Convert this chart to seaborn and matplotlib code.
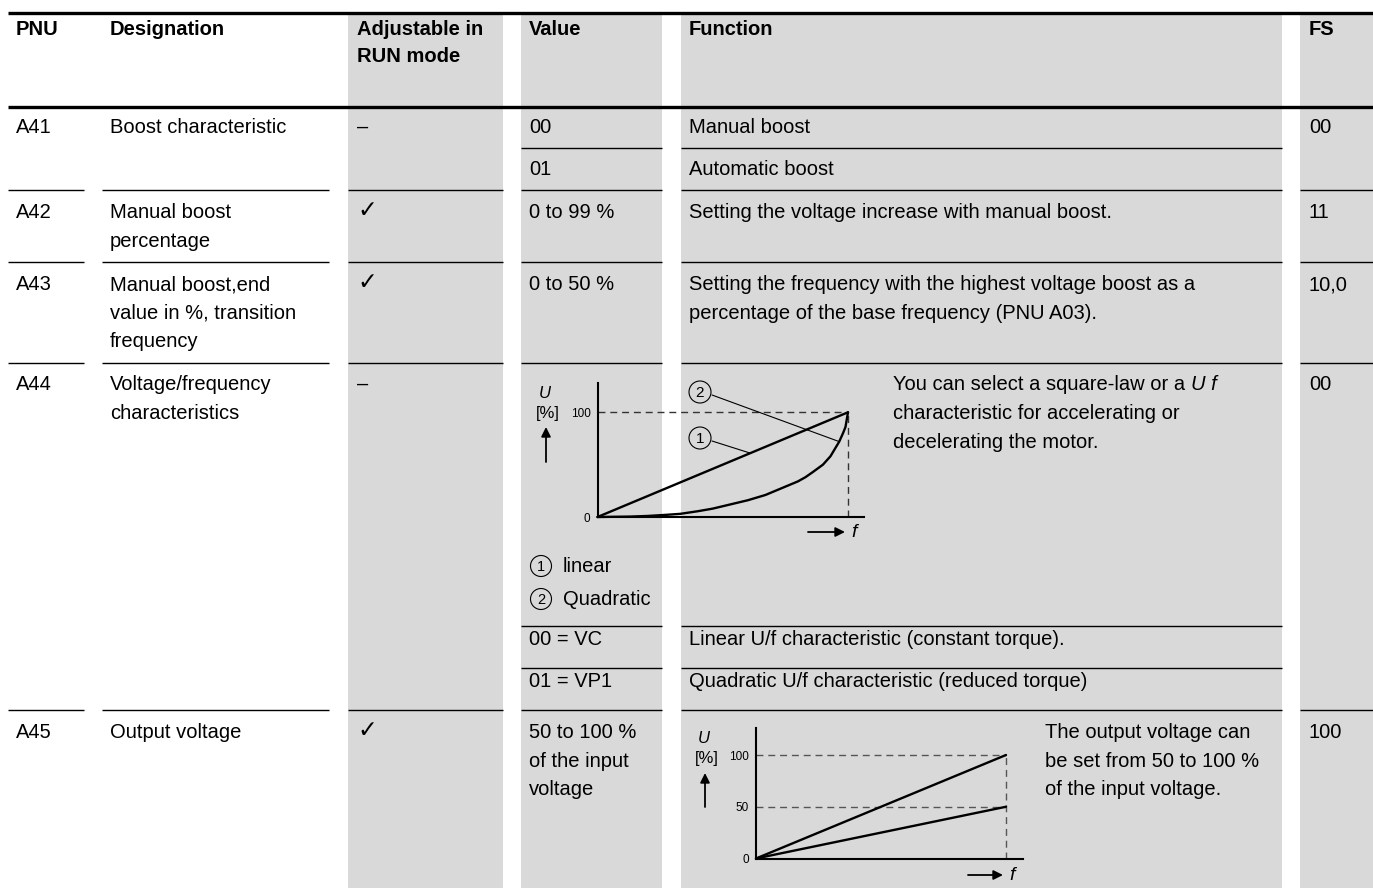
import matplotlib
matplotlib.use("Agg")
import matplotlib.pyplot as plt
from matplotlib.patches import Rectangle, Circle
import seaborn as sns

sns.set_theme(style="white")
plt.rcParams['font.family'] = ['Liberation Sans', 'DejaVu Sans']

# ---- table content ----
headers = ["PNU", "Designation", "Adjustable in\nRUN mode", "Value", "Function", "FS"]
pnu = ["A41", "A42", "A43", "A44", "A45"]
designation = ["Boost characteristic",
               "Manual boost\npercentage",
               "Manual boost,end\nvalue in %, transition\nfrequency",
               "Voltage/frequency\ncharacteristics",
               "Output voltage"]
run_mode = ["–", "✓", "✓", "–", "✓"]
fs_value = ["00", "11", "10,0", "00", "100"]
values = ["00", "01", "0 to 99 %", "0 to 50 %", "00 = VC", "01 = VP1",
          "50 to 100 %\nof the input\nvoltage"]
functions = ["Manual boost",
             "Automatic boost",
             "Setting the voltage increase with manual boost.",
             "Setting the frequency with the highest voltage boost as a\n"
             "percentage of the base frequency (PNU A03).",
             "Linear U/f characteristic (constant torque).",
             "Quadratic U/f characteristic (reduced torque)",
             ""]
a44_text = ["You can select a square-law or a", "characteristic for accelerating or",
            "decelerating the motor."]
a44_italic = "U f"
a45_text = "The output voltage can\nbe set from 50 to 100 %\nof the input voltage."
legend_items = ["linear", "Quadratic"]

# ---- diagram curves (f relative to base frequency, U in %) ----
lin_f = [0, 1]
lin_u = [0, 100]
quad_f = [0, 0.13, 0.2, 0.27, 0.33, 0.4, 0.46, 0.53, 0.6, 0.67, 0.73, 0.76, 0.8,
          0.83, 0.86, 0.9, 0.93, 0.95, 0.965, 0.98, 0.99, 0.995, 1.0]
quad_u = [0, 0.4, 1, 2, 3, 5.5, 8, 12, 16, 21, 27, 30, 34,
          38, 43, 50, 58, 66, 72, 80, 86, 93, 100]
out_f = [0, 1]
out_hi = [0, 100]
out_lo = [0, 50]

W, H = 1373, 888
fig = plt.figure(figsize=(W / 100, H / 100), dpi=100)
ax = fig.add_axes([0, 0, 1, 1])
ax.set_xlim(0, W)
ax.set_ylim(H, 0)
ax.axis('off')

GRAY = '#d9d9d9'
FSZ = 14.5
STEP = 28.5

col_pnu, col_des, col_adj = (8, 84), (102, 329), (348, 503)
col_val, col_fun, col_fs = (521, 662), (681, 1282), (1300, 1373)
all_cols = [col_pnu, col_des, col_adj, col_val, col_fun, col_fs]
vf_cols = [col_val, col_fun]
text_x = [16, 110, 357, 529, 689, 1309]

for c in [col_adj, col_val, col_fun, col_fs]:
    ax.add_patch(Rectangle((c[0], 13), c[1] - c[0], H - 13, color=GRAY, lw=0, zorder=0))

for y in (13, 107):
    ax.plot([8, W], [y, y], color='black', lw=2.4, solid_capstyle='butt')


def put(x, y, s, step=STEP, **kw):
    kw.setdefault('fontsize', FSZ)
    for i, line in enumerate(s.split("\n")):
        t = ax.text(x, y + i * step, line, va='baseline', ha='left', color='black', **kw)
    return t


def hline(y, cols):
    for c in cols:
        ax.plot([c[0], c[1]], [y, y], color='black', lw=1.0, solid_capstyle='butt')


for x, h in zip(text_x, headers):
    put(x, 35, h, step=27, fontweight='bold')

hline(148, vf_cols)
for y in (190, 262, 363, 710):
    hline(y, all_cols)
hline(626, vf_cols)
hline(668, vf_cols)

row_y = [133, 218, 290, 390, 738]
for i, y in enumerate(row_y):
    put(text_x[0], y, pnu[i])
    put(text_x[1], y, designation[i])
    if run_mode[i] == "✓":
        put(text_x[2], y - 1, run_mode[i], fontsize=17, family=['DejaVu Sans'])
    else:
        put(text_x[2], y, run_mode[i])
    put(text_x[5], y, fs_value[i])

val_y = [133, 175, 218, 290, 645, 687, 738]
for v, f, y in zip(values, functions, val_y):
    put(text_x[3], y, v)
    if f:
        put(text_x[4], y, f)

# A44 function text with italic U f
t0 = put(893, 390, a44_text[0])
ax.annotate(a44_italic, xy=(1, 0), xycoords=t0, xytext=(4, 0), textcoords='offset points',
            va='bottom', ha='left', fontsize=FSZ, style='italic', color='black')
for i, line in enumerate(a44_text[1:]):
    put(893, 419 + i * 29, line)

put(1045, 738, a45_text)

# legend for A44
for i, lab in enumerate(legend_items):
    cy = 566 + i * 33
    ax.add_patch(Circle((541, cy), 10.5, fill=False, lw=0.8, color='black'))
    ax.text(541, cy + 0.5, str(i + 1), ha='center', va='center', fontsize=10.5, color='black')
    put(563, cy + 6, lab)


def diagram(x0, x_end, x_axis_end, y0, y_full, y_top, yticks):
    axd = fig.add_axes([x0 / W, (H - y0) / H, (x_axis_end - x0) / W, (y0 - y_top) / H])
    axd.patch.set_alpha(0)
    axd.set_xlim(0, (x_axis_end - x0) / (x_end - x0))
    axd.set_ylim(0, (y0 - y_top) / (y0 - y_full) * 100)
    sns.despine(ax=axd)
    for s in ('left', 'bottom'):
        axd.spines[s].set_color('black')
        axd.spines[s].set_linewidth(1.5)
    axd.set_xticks([])
    axd.set_yticks(yticks)
    axd.set_yticklabels([str(v) for v in yticks], fontsize=8.5)
    axd.tick_params(axis='y', length=0, pad=5, colors='black')
    return axd


def decorate(axd, levels, color):
    for lv in levels:
        axd.plot([0, 1], [lv, lv], color=color, lw=1.0, ls=(0, (5, 3.5)), clip_on=False)
    axd.plot([1, 1], [0, max(levels)], color=color, lw=1.0, ls=(0, (5, 3.5)), clip_on=False)


def axis_arrows(ux, uy, tail, tip, fx0, fx1, fy):
    ax.text(ux - 1, uy - 20, "U", ha='center', va='center', fontsize=12, style='italic', color='black')
    ax.text(ux + 2, uy, "[%]", ha='center', va='center', fontsize=12, color='black')
    ax.annotate("", xy=(ux, tip), xytext=(ux, tail),
                arrowprops=dict(arrowstyle='-|>', color='black', lw=1.3, mutation_scale=14,
                                shrinkA=0, shrinkB=0))
    ax.annotate("", xy=(fx1, fy), xytext=(fx0, fy),
                arrowprops=dict(arrowstyle='-|>', color='black', lw=1.3, mutation_scale=14,
                                shrinkA=0, shrinkB=0))
    ax.text(fx1 + 9, fy, "f", ha='center', va='center', fontsize=14, style='italic', color='black')


# A44 diagram
ax1 = diagram(597.5, 848, 864, 517, 412.3, 383, [0, 100])
decorate(ax1, [100], '#333333')
sns.lineplot(x=lin_f, y=lin_u, ax=ax1, color='black', linewidth=1.7, sort=False, estimator=None)
sns.lineplot(x=quad_f, y=quad_u, ax=ax1, color='black', linewidth=1.7, sort=False, estimator=None)
for ln in ax1.lines:
    ln.set_clip_on(False)
axis_arrows(546, 413, 462, 427, 808, 845, 532)

for num, (cx, cy), xy in [(2, (700, 392), (quad_f[18], quad_u[18])),
                          (1, (700, 438), (0.61, 61))]:
    ax.add_patch(Circle((cx, cy), 11, fill=False, lw=0.8, color='black'))
    ax.text(cx, cy + 0.5, str(num), ha='center', va='center', fontsize=11, color='black')
    ax1.annotate("", xy=xy, xycoords='data', xytext=(cx + 12, cy + 3), textcoords=ax.transData,
                 arrowprops=dict(arrowstyle='-', color='black', lw=0.8, shrinkA=0, shrinkB=0),
                 annotation_clip=False)

# A45 diagram
ax2 = diagram(756, 1006, 1023, 858.5, 755, 727.5, [0, 50, 100])
decorate(ax2, [50, 100], '#555555')
sns.lineplot(x=out_f, y=out_hi, ax=ax2, color='black', linewidth=1.7, sort=False, estimator=None)
sns.lineplot(x=out_f, y=out_lo, ax=ax2, color='black', linewidth=1.7, sort=False, estimator=None)
for ln in ax2.lines:
    ln.set_clip_on(False)
axis_arrows(705, 758, 807, 773, 968, 1003, 875)

fig.savefig("out.png", dpi=100)
